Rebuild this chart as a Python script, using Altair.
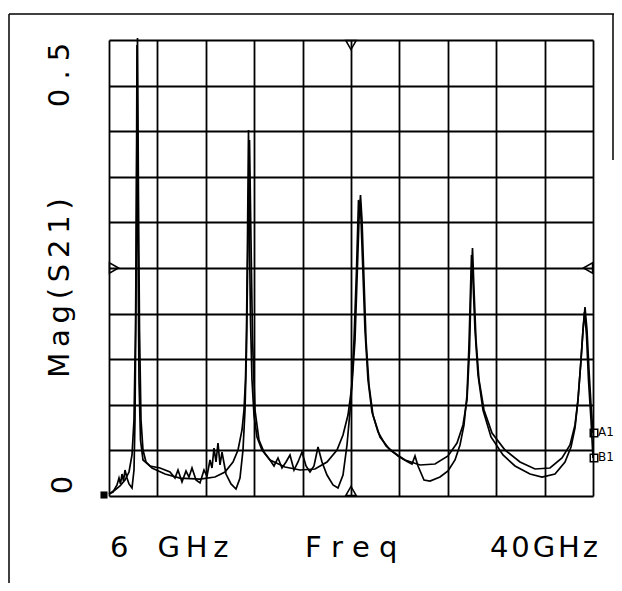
import altair as alt
import pandas as pd

# ---------------- data ----------------
x_ticks = [6.0, 9.4, 12.8, 16.2, 19.6, 23.0, 26.4, 29.8, 33.2, 36.6, 40.0]
y_ticks = [0.0, 0.05, 0.10, 0.15, 0.20, 0.25, 0.30, 0.35, 0.40, 0.45, 0.50]

# trace A (smooth, ends at marker A1)
a_freq = [6.000, 6.421, 6.773, 7.124, 7.405, 7.616, 7.756, 7.862, 7.932, 8.002,
          8.072, 8.143, 8.248, 8.388, 8.599, 9.021, 9.934, 10.988, 12.393, 13.446,
          14.149, 14.711, 15.062, 15.343, 15.483, 15.589, 15.659, 15.729, 15.800, 15.870,
          15.940, 16.045, 16.186, 16.397, 16.748, 17.310, 18.364, 19.417, 20.471, 21.314,
          22.017, 22.438, 22.789, 23.070, 23.281, 23.422, 23.562, 23.667, 23.773, 23.913,
          24.054, 24.264, 24.545, 25.037, 25.740, 26.793, 27.847, 28.901, 29.814, 30.446,
          30.868, 31.149, 31.324, 31.430, 31.535, 31.641, 31.781, 31.992, 32.343, 32.905,
          33.818, 34.872, 35.926, 36.979, 37.822, 38.384, 38.736, 38.946, 39.157, 39.298,
          39.438, 39.579, 39.719, 39.860, 40.000]
a_mag = [0.0022, 0.0066, 0.0110, 0.0175, 0.0263, 0.0450, 0.0833, 0.1820, 0.3246, 0.5022,
         0.3246, 0.1820, 0.0833, 0.0504, 0.0373, 0.0307, 0.0241, 0.0197, 0.0186, 0.0208,
         0.0263, 0.0373, 0.0504, 0.0724, 0.0943, 0.1272, 0.1820, 0.2807, 0.4013, 0.2807,
         0.1930, 0.1272, 0.0888, 0.0647, 0.0504, 0.0395, 0.0318, 0.0285, 0.0296, 0.0373,
         0.0504, 0.0669, 0.0888, 0.1217, 0.1711, 0.2368, 0.3026, 0.3300, 0.3026, 0.2368,
         0.1711, 0.1217, 0.0888, 0.0647, 0.0504, 0.0395, 0.0340, 0.0351, 0.0439, 0.0581,
         0.0779, 0.1053, 0.1601, 0.2259, 0.2719, 0.2259, 0.1711, 0.1272, 0.0943, 0.0691,
         0.0504, 0.0373, 0.0296, 0.0307, 0.0417, 0.0559, 0.0779, 0.1053, 0.1491, 0.1820,
         0.2072, 0.1820, 0.1382, 0.0998, 0.0691]

# trace B (noisy, ends at marker B1)
b_freq = [6.000, 6.281, 6.562, 6.702, 6.808, 6.913, 7.019, 7.124, 7.264, 7.405,
          7.616, 7.756, 7.826, 7.897, 7.967, 8.037, 8.107, 8.213, 8.388, 8.880,
          9.583, 10.285, 10.636, 10.847, 11.128, 11.409, 11.620, 11.831, 12.112, 12.393,
          12.674, 12.884, 13.095, 13.236, 13.376, 13.517, 13.657, 13.798, 13.938, 14.219,
          14.570, 14.922, 15.202, 15.413, 15.554, 15.659, 15.764, 15.870, 15.975, 16.081,
          16.256, 16.537, 16.888, 17.310, 17.591, 17.872, 18.153, 18.434, 18.715, 18.996,
          19.277, 19.558, 19.839, 20.120, 20.401, 20.682, 20.963, 21.314, 21.736, 22.087,
          22.438, 22.719, 23.000, 23.211, 23.387, 23.527, 23.667, 23.808, 23.983, 24.194,
          24.475, 24.897, 25.459, 26.302, 27.004, 27.285, 27.496, 27.707, 28.128, 28.550,
          29.252, 29.814, 30.306, 30.657, 30.938, 31.149, 31.289, 31.394, 31.465, 31.570,
          31.711, 31.922, 32.273, 32.835, 33.678, 34.521, 35.575, 36.418, 37.331, 38.033,
          38.455, 38.736, 38.946, 39.157, 39.298, 39.403, 39.543, 39.684, 39.860, 40.000]
b_mag = [0.0022, 0.0044, 0.0121, 0.0197, 0.0132, 0.0241, 0.0164, 0.0285, 0.0197, 0.0132,
         0.0088, 0.0285, 0.0833, 0.2149, 0.4945, 0.2697, 0.1272, 0.0614, 0.0395, 0.0329,
         0.0307, 0.0263, 0.0197, 0.0285, 0.0154, 0.0274, 0.0208, 0.0307, 0.0175, 0.0143,
         0.0285, 0.0219, 0.0395, 0.0307, 0.0526, 0.0373, 0.0581, 0.0340, 0.0482, 0.0241,
         0.0132, 0.0077, 0.0197, 0.0504, 0.0943, 0.1601, 0.2807, 0.3904, 0.2807, 0.1711,
         0.0943, 0.0614, 0.0482, 0.0395, 0.0329, 0.0417, 0.0307, 0.0373, 0.0450, 0.0285,
         0.0373, 0.0482, 0.0329, 0.0263, 0.0329, 0.0537, 0.0373, 0.0230, 0.0121, 0.0088,
         0.0230, 0.0559, 0.1053, 0.1711, 0.2478, 0.3246, 0.3191, 0.2588, 0.1820, 0.1272,
         0.0921, 0.0702, 0.0548, 0.0439, 0.0373, 0.0351, 0.0439, 0.0329, 0.0175, 0.0164,
         0.0208, 0.0274, 0.0395, 0.0559, 0.0779, 0.1107, 0.1656, 0.2259, 0.2643, 0.2368,
         0.1820, 0.1327, 0.0943, 0.0647, 0.0450, 0.0329, 0.0241, 0.0208, 0.0241, 0.0373,
         0.0537, 0.0746, 0.1053, 0.1491, 0.1820, 0.2018, 0.1765, 0.1272, 0.0833, 0.0417]

end_labels = ["A1", "B1"]
end_freq = [40.0, 40.0]
end_mag = [0.0691, 0.0417]

# ---------------- chart ----------------
W, H = 484, 456
FONT = "DejaVu Sans"
NB, TS, HS, EN = "\u00a0", "\u2009", "\u200a", "\u2002"

traces = pd.concat([
    pd.DataFrame({"freq": a_freq, "mag": a_mag, "trace": "A"}),
    pd.DataFrame({"freq": b_freq, "mag": b_mag, "trace": "B"}),
])
end_markers = pd.DataFrame({"freq": end_freq, "mag": end_mag, "label": end_labels})

xs = alt.Scale(domain=[6, 40], nice=False, zero=False)
ys = alt.Scale(domain=[0, 0.5], nice=False)

grid_kw = dict(grid=True, labels=False, ticks=False, domain=False, title=None,
               gridColor="black", gridWidth=1.8, gridOpacity=1)

lines = alt.Chart(traces).mark_line(color="black", strokeWidth=1.7, clip=False).encode(
    x=alt.X("freq:Q", scale=xs, axis=alt.Axis(values=x_ticks, **grid_kw)),
    y=alt.Y("mag:Q", scale=ys, axis=alt.Axis(values=y_ticks, **grid_kw)),
    detail="trace:N",
)

def tri(shape, f, m, dx=0, dy=0):
    d = pd.DataFrame({"freq": [f], "mag": [m]})
    return alt.Chart(d).mark_point(shape=shape, filled=False, color="black", size=110,
                                   strokeWidth=1.5, xOffset=dx, yOffset=dy, opacity=1).encode(
        x=alt.X("freq:Q", scale=xs), y=alt.Y("mag:Q", scale=ys))

refs = [
    tri("triangle-down", 23.0, 0.5, dy=5),
    tri("triangle-up", 23.0, 0.0, dy=-5),
    tri("triangle-right", 6.0, 0.25, dx=5),
    tri("triangle-left", 40.0, 0.25, dx=-5),
]

squares = alt.Chart(end_markers).mark_point(shape="square", filled=False, color="black",
                                            size=56, strokeWidth=1.5, xOffset=1, opacity=1).encode(
    x=alt.X("freq:Q", scale=xs), y=alt.Y("mag:Q", scale=ys))
sq_labels = alt.Chart(end_markers).mark_text(align="left", baseline="middle", font=FONT,
                                             fontSize=12, dx=5, dy=-1, color="black").encode(
    x=alt.X("freq:Q", scale=xs), y=alt.Y("mag:Q", scale=ys), text="label:N")

start_marker = alt.Chart(pd.DataFrame({"freq": [6.0], "mag": [0.0]})).mark_point(
    shape="square", filled=True, color="black", size=50, xOffset=-5, yOffset=-1, opacity=1).encode(
    x=alt.X("freq:Q", scale=xs), y=alt.Y("mag:Q", scale=ys))

def label(text, x, y, angle=0, align="center", baseline="middle", size=29):
    return alt.Chart(pd.DataFrame({"t": [text]})).mark_text(
        font=FONT, fontSize=size, angle=angle, align=align, baseline=baseline,
        color="black").encode(x=alt.value(x), y=alt.value(y), text="t:N")

texts = [
    label(NB.join("0.5"), -49, 35, angle=270),
    label(TS.join("Mag(S21)"), -49, 248, angle=270),
    label("0", -46, 445, angle=270),
    label("6" + EN + EN + TS.join("GHz"), 1, 517, align="left", baseline="alphabetic"),
    label(NB.join("Freq"), 196, 517, align="left", baseline="alphabetic"),
    label(HS.join("40GHz"), 489, 517, align="right", baseline="alphabetic"),
]

def rule(x1, y1, x2, y2):
    return alt.Chart(pd.DataFrame({"a": [0]})).mark_rule(color="black", strokeWidth=1.5).encode(
        x=alt.value(x1), y=alt.value(y1), x2=alt.value(x2), y2=alt.value(y2))

frame = [
    rule(-100, -26, -100, 543),
    rule(-100, -26, 505, -26),
    rule(504, -26, 504, 120),
]

chart = alt.layer(lines, *refs, squares, sq_labels, start_marker, *texts, *frame).properties(
    width=W, height=H,
    autosize=alt.AutoSizeParams(type="none"),
    padding={"left": 101, "top": 32, "right": 21, "bottom": 87},
).configure_view(stroke="black", strokeWidth=2).configure(font=FONT, background="white")

chart.save("out.html", embed_options={"renderer": "svg", "actions": False})
